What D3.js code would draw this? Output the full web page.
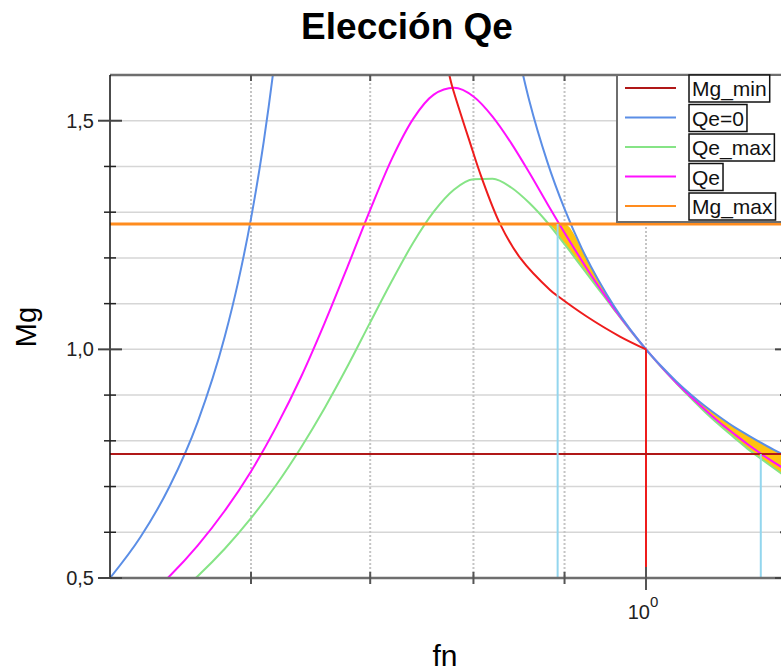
<!DOCTYPE html>
<html>
<head>
<meta charset="utf-8">
<script src="https://cdn.jsdelivr.net/npm/d3@7"></script>
<style>
  body { margin: 0; background: #fff; }
  svg { display: block; font-family: "Liberation Sans", Arial, sans-serif; }
</style>
</head>
<body>
<svg id="chart" width="781" height="671"></svg>
<script>
// normalised frequency grid and gain curves
const fn = [0.50,0.52,0.54,0.56,0.58,0.60,0.62,0.64,0.66,0.68,0.70,0.72,0.74,0.76,0.78,0.80,0.82,0.84,
            0.86,0.88,0.90,0.92,0.94,0.96,0.98,1.00,1.02,1.04,1.06,1.08,1.10,1.12,1.14,1.16,1.18,1.20];
const mgQe = [0.393,0.445,0.504,0.571,0.647,0.733,0.831,0.939,1.058,1.182,1.305,1.417,1.504,1.557,1.572,1.553,1.509,1.451,
              1.386,1.319,1.255,1.195,1.139,1.088,1.042,1.000,0.962,0.927,0.896,0.867,0.840,0.816,0.793,0.772,0.753,0.735];
const mgQeMax = [0.359,0.402,0.450,0.504,0.564,0.631,0.704,0.785,0.872,0.964,1.059,1.150,1.233,1.301,1.349,1.372,1.373,1.354,
                 1.320,1.278,1.230,1.181,1.133,1.086,1.041,1.000,0.961,0.926,0.893,0.862,0.834,0.808,0.783,0.761,0.740,0.720];

// Qe=0 curve, two branches either side of the pole
const fnQe0L = [0.50,0.52,0.54,0.56,0.58,0.59,0.60,0.61,0.62,0.63];
const mgQe0L = [0.500,0.589,0.700,0.841,1.028,1.146,1.286,1.455,1.663,1.925];
const fnQe0R = [0.84,0.86,0.88,0.90,0.92,0.94,0.96,0.98,1.00,1.02,1.04,1.06,1.08,1.10,1.12,1.14,1.16,1.18,1.20];
const mgQe0R = [1.716,1.543,1.411,1.307,1.222,1.152,1.093,1.043,1.000,0.963,0.930,0.901,0.875,0.852,0.831,0.813,0.796,0.780,0.766];

// red boundary curve
const fnRed = [0.772,0.7753,0.7783,0.7966,0.8086,0.8281,0.8498,0.8833,0.8929,0.9262,0.9669,1.000];
const mgRed = [1.630,1.601,1.575,1.451,1.375,1.274,1.200,1.130,1.1155,1.0718,1.028,1.000];

const mgMin = 0.771;
const mgMax = 1.274;
const fnLimits = [0.892, 1.16];   // cyan markers
const limitTops = [mgMax, mgMin];

const xTicks = [0.6, 0.7, 0.8, 0.9, 1.0];
const yMajor = [0.5, 1.0, 1.5];
const yMajorLabels = ["0,5", "1,0", "1,5"];
const yMinor = [0.6, 0.7, 0.8, 0.9, 1.1, 1.2, 1.3, 1.4];
const yGrid = [0.6, 0.7, 0.8, 0.9, 1.0, 1.1, 1.2, 1.3, 1.4, 1.5];

const legendNames = ["Mg_min", "Qe=0", "Qe_max", "Qe", "Mg_max"];
const colors = {
  "Mg_min": "#b01818",
  "Qe=0": "#5b8ee6",
  "Qe_max": "#86e486",
  "Qe": "#ff10ff",
  "Mg_max": "#ff8c1e"
};

const pLeft = 110, pRight = 787, pTop = 75, pBottom = 578;

const svg = d3.select('#chart');

const x = d3.scaleLog().domain([0.5, 1.2]).range([pLeft, pRight]);
const y = d3.scaleLinear().domain([0.5, 1.6]).range([pBottom, pTop]);

svg.append('defs').append('clipPath')
    .attr('id', 'plot')
    .append('rect')
    .attr('x', pLeft).attr('y', pTop)
    .attr('width', pRight - pLeft).attr('height', pBottom - pTop);

// grid
svg.append('g').selectAll('line')
    .data(yGrid)
    .join('line')
    .attr('x1', pLeft).attr('x2', pRight)
    .attr('y1', d => y(d)).attr('y2', d => y(d))
    .attr('stroke', '#d6d6d6')
    .attr('stroke-width', 1.5);

svg.append('g').selectAll('line')
    .data(xTicks)
    .join('line')
    .attr('x1', d => x(d)).attr('x2', d => x(d))
    .attr('y1', pTop).attr('y2', pBottom)
    .attr('stroke', '#c4c4c4')
    .attr('stroke-width', 2)
    .attr('stroke-dasharray', '2,2');

const plot = svg.append('g').attr('clip-path', 'url(#plot)');

// yellow region between Qe=0 and Qe_max, capped at Mg_max
const fillData = fnQe0R.map((f, i) => {
    const j = fn.findIndex(v => Math.abs(v - f) < 1e-9);
    return [f, Math.min(mgQeMax[j], mgMax), Math.min(mgQe0R[i], mgMax)];
});

plot.append('path')
    .datum(fillData)
    .attr('fill', '#ffc20e')
    .attr('d', d3.area()
        .x(d => x(d[0]))
        .y0(d => y(d[1]))
        .y1(d => y(d[2]))
        .curve(d3.curveMonotoneX));

const line = d3.line()
    .x(d => x(d[0]))
    .y(d => y(d[1]))
    .curve(d3.curveMonotoneX);

const smoothLine = d3.line()
    .x(d => x(d[0]))
    .y(d => y(d[1]))
    .curve(d3.curveCatmullRom.alpha(0.5));

function drawCurve(fs, ms, color, w, gen) {
    plot.append('path')
        .datum(fs.map((f, i) => [f, ms[i]]))
        .attr('fill', 'none')
        .attr('stroke', color)
        .attr('stroke-width', w)
        .attr('d', gen || line);
}

drawCurve(fn, mgQeMax, colors["Qe_max"], 2);
drawCurve(fn, mgQe, colors["Qe"], 2);
drawCurve(fnQe0L, mgQe0L, colors["Qe=0"], 2);
drawCurve(fnQe0R, mgQe0R, colors["Qe=0"], 2);
drawCurve(fnRed, mgRed, '#ee1c1c', 2, smoothLine);

// red drop at fn = 1
plot.append('line')
    .attr('x1', x(1)).attr('x2', x(1))
    .attr('y1', y(mgRed[mgRed.length - 1])).attr('y2', y(0.5))
    .attr('stroke', '#ee1c1c')
    .attr('stroke-width', 2);

// Mg limits
plot.selectAll('.lim')
    .data([[mgMin, colors["Mg_min"], 2], [mgMax, colors["Mg_max"], 3]])
    .join('line')
    .attr('class', 'lim')
    .attr('x1', pLeft).attr('x2', pRight)
    .attr('y1', d => y(d[0])).attr('y2', d => y(d[0]))
    .attr('stroke', d => d[1])
    .attr('stroke-width', d => d[2]);

// cyan frequency markers
plot.selectAll('.fl')
    .data(fnLimits)
    .join('line')
    .attr('class', 'fl')
    .attr('x1', d => x(d)).attr('x2', d => x(d))
    .attr('y1', (d, i) => y(limitTops[i])).attr('y2', y(0.5))
    .attr('stroke', '#93d6ee')
    .attr('stroke-width', 2);

// frame
svg.append('line')
    .attr('x1', pLeft).attr('x2', pRight)
    .attr('y1', pTop).attr('y2', pTop)
    .attr('stroke', '#6e6e6e').attr('stroke-width', 2.5);
svg.append('line')
    .attr('x1', pLeft).attr('x2', pRight)
    .attr('y1', pBottom).attr('y2', pBottom)
    .attr('stroke', '#6e6e6e').attr('stroke-width', 2.5);
svg.append('line')
    .attr('x1', pLeft).attr('x2', pLeft)
    .attr('y1', pTop).attr('y2', pBottom)
    .attr('stroke', '#111').attr('stroke-width', 1.5);

// x ticks, bottom and top
svg.append('g').selectAll('line')
    .data(xTicks)
    .join('line')
    .attr('x1', d => x(d)).attr('x2', d => x(d))
    .attr('y1', d => d === 1 ? pBottom - 11 : pBottom - 6)
    .attr('y2', d => d === 1 ? pBottom + 12 : pBottom + 6)
    .attr('stroke', '#555').attr('stroke-width', 2);
svg.append('g').selectAll('line')
    .data(xTicks)
    .join('line')
    .attr('x1', d => x(d)).attr('x2', d => x(d))
    .attr('y1', pTop).attr('y2', pTop + 6)
    .attr('stroke', '#555').attr('stroke-width', 2);

// y ticks, left and right
svg.append('g').selectAll('line')
    .data(yMajor)
    .join('line')
    .attr('x1', pLeft - 12).attr('x2', pLeft + 12)
    .attr('y1', d => y(d)).attr('y2', d => y(d))
    .attr('stroke', '#444').attr('stroke-width', 2);
svg.append('g').selectAll('line')
    .data(yMinor)
    .join('line')
    .attr('x1', pLeft - 6).attr('x2', pLeft + 6)
    .attr('y1', d => y(d)).attr('y2', d => y(d))
    .attr('stroke', '#222').attr('stroke-width', 1.5);
svg.append('g').selectAll('line')
    .data(yMajor.concat(yMinor))
    .join('line')
    .attr('x1', d => yMajor.includes(d) ? pRight - 12 : pRight - 7).attr('x2', pRight)
    .attr('y1', d => y(d)).attr('y2', d => y(d))
    .attr('stroke', '#444').attr('stroke-width', 2);

// tick labels
svg.append('g').selectAll('text')
    .data(yMajor)
    .join('text')
    .attr('x', pLeft - 16)
    .attr('y', d => y(d) + 7)
    .attr('text-anchor', 'end')
    .attr('font-size', 20)
    .attr('fill', '#222')
    .text((d, i) => yMajorLabels[i]);

const xl = svg.append('text')
    .attr('x', x(1) - 3)
    .attr('y', 619)
    .attr('text-anchor', 'middle')
    .attr('font-size', 20)
    .attr('fill', '#222');
xl.append('tspan').text('10');
xl.append('tspan').attr('dy', -12).attr('font-size', 15).text('0');

// titles
svg.append('text')
    .attr('x', 407).attr('y', 39)
    .attr('text-anchor', 'middle')
    .attr('font-size', 37)
    .attr('font-weight', 'bold')
    .text('Elección Qe');

svg.append('text')
    .attr('transform', 'translate(36,327) rotate(-90)')
    .attr('text-anchor', 'middle')
    .attr('font-size', 29)
    .text('Mg');

svg.append('text')
    .attr('x', 445).attr('y', 666)
    .attr('text-anchor', 'middle')
    .attr('font-size', 30)
    .text('fn');

// legend
const legend = svg.append('g');
legend.append('rect')
    .attr('x', 617).attr('y', pTop)
    .attr('width', 180).attr('height', 147)
    .attr('fill', '#fff')
    .attr('stroke', '#6e6e6e').attr('stroke-width', 2);

const rows = legend.selectAll('g')
    .data(legendNames)
    .join('g')
    .attr('transform', (d, i) => `translate(0, ${88 + i * 29.5})`);

rows.append('line')
    .attr('x1', 625).attr('x2', 676)
    .attr('stroke', d => colors[d])
    .attr('stroke-width', 2);

rows.append('rect')
    .attr('class', 'lbox')
    .attr('x', 689).attr('y', -13)
    .attr('height', 27)
    .attr('fill', '#fff')
    .attr('stroke', '#111').attr('stroke-width', 1.5);

rows.append('text')
    .attr('x', 692).attr('y', 8)
    .attr('font-size', 21)
    .attr('fill', '#111')
    .text(d => d);

rows.each(function () {
    const g = d3.select(this);
    const w = g.select('text').node().getComputedTextLength();
    g.select('.lbox').attr('width', w + 6);
});
</script>
</body>
</html>
